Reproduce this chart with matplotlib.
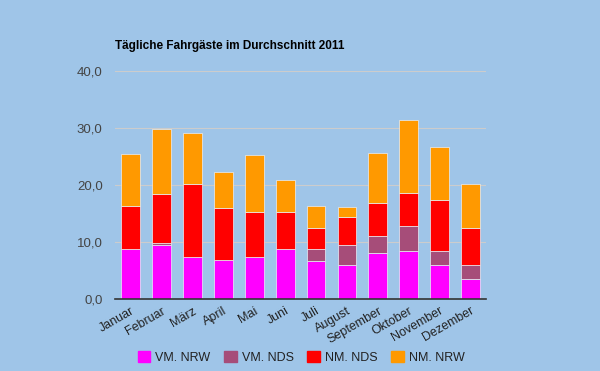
import numpy as np
import matplotlib
matplotlib.use("Agg")
import matplotlib.pyplot as plt
from matplotlib.patches import Patch

plt.rcParams['font.family'] = ['Liberation Sans', 'DejaVu Sans']

BG = "#9fc5e8"

months = ["Januar", "Februar", "März", "April", "Mai", "Juni", "Juli",
          "August", "September", "Oktober", "November", "Dezember"]

vm_nrw = [8.8, 9.5, 7.5, 6.9, 7.4, 8.8, 6.8, 6.0, 8.1, 8.4, 6.0, 3.5]
vm_nds = [0.0, 0.4, 0.0, 0.0, 0.0, 0.0, 2.1, 3.5, 3.0, 4.45, 2.45, 2.45]
nm_nds = [7.5, 8.5, 12.7, 9.2, 8.0, 6.5, 3.7, 4.9, 5.75, 5.85, 8.95, 6.65]
nm_nrw = [9.2, 11.5, 9.0, 6.3, 9.9, 5.7, 3.8, 1.8, 8.8, 12.8, 9.3, 7.7]

series = [
    ("VM. NRW", vm_nrw, "#ff00ff"),
    ("VM. NDS", vm_nds, "#a64d79"),
    ("NM. NDS", nm_nds, "#ff0000"),
    ("NM. NRW", nm_nrw, "#ff9900"),
]

fig = plt.figure(figsize=(6, 3.71), dpi=100, facecolor=BG)
ax = fig.add_axes([0.192, 0.193, 0.618, 0.615], facecolor=BG)

x = np.arange(len(months))
bottom = np.zeros(len(months))
for name, vals, col in series:
    vals = np.array(vals)
    # no white outline on empty segments
    edges = ["#e8f0f8" if v > 0 else "none" for v in vals]
    ax.bar(x, vals, bottom=bottom, width=0.61, color=col,
           edgecolor=edges, linewidth=0.5, zorder=3)
    bottom += vals

ax.set_xlim(-0.5, len(months) - 0.5)
ax.set_ylim(0, 40)
ax.set_yticks([0, 10, 20, 30, 40])
ax.set_yticklabels(["0,0", "10,0", "20,0", "30,0", "40,0"])
ax.yaxis.grid(True, color="#cccccc", linewidth=0.8, zorder=0)
ax.set_axisbelow(True)

ax.set_xticks(x)
ax.set_xticklabels(months, rotation=30, ha="right", rotation_mode="anchor")

for s in ["top", "right", "left"]:
    ax.spines[s].set_visible(False)
ax.spines["bottom"].set_color("#333333")
ax.spines["bottom"].set_linewidth(1.2)
ax.spines["bottom"].set_zorder(4)
ax.tick_params(axis="both", length=0, colors="#444444")
ax.tick_params(axis="x", pad=4, labelsize=9, colors="#222222")
ax.tick_params(axis="y", pad=9, labelsize=9.5)

fig.text(0.192, 0.877, "Tägliche Fahrgäste im Durchschnitt 2011",
         fontsize=8.5, fontweight="bold", color="black", va="center")

handles = [Patch(color=col, label=name) for name, _, col in series]
fig.legend(handles=handles, loc="center", bbox_to_anchor=(0.502, 0.036),
           ncol=4, frameon=False, fontsize=9, handlelength=1.0,
           handleheight=1.0, columnspacing=1.1, handletextpad=0.4,
           labelcolor="#222222")

fig.savefig("out.png", dpi=100, facecolor=BG)
